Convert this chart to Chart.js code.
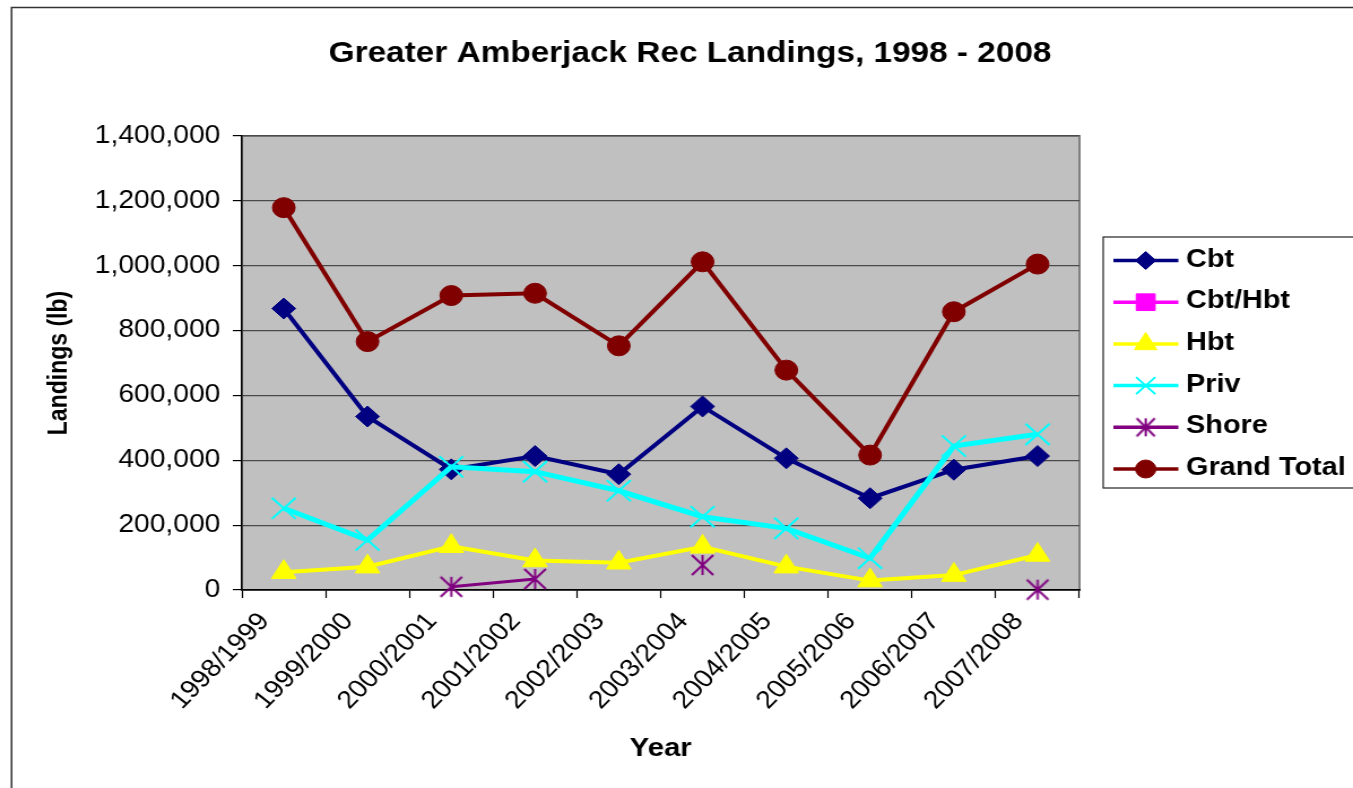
<!DOCTYPE html>
<html>
<head>
<meta charset="utf-8">
<title>Greater Amberjack Rec Landings, 1998 - 2008</title>
<script src="https://cdn.jsdelivr.net/npm/chart.js@4.4.1/dist/chart.umd.min.js"></script>
<style>
  html, body { margin: 0; padding: 0; background: #ffffff; }
  #landingsChart { display: block; }
</style>
</head>
<body>
<!-- drawn 1197 wide and stretched to 1353 by css, the original picture is stretched the same way -->
<canvas id="landingsChart" width="1197" height="788" style="width:1353px;height:788px"></canvas>
<script>
// Data (pounds)
const seasons = ['1998/1999', '1999/2000', '2000/2001', '2001/2002', '2002/2003',
                 '2003/2004', '2004/2005', '2005/2006', '2006/2007', '2007/2008'];
const cbt        = [868000, 535000, 372000, 413000, 357000, 566000, 406000, 283000, 371000, 413000];
const cbtHbt     = [null, null, null, null, null, null, null, null, null, null];
const hbt        = [55000, 72000, 135000, 91000, 84000, 133000, 72000, 29000, 46000, 108000];
const priv       = [252000, 154000, 380000, 365000, 306000, 226000, 190000, 98000, 444000, 480000];
const shore      = [null, null, 10000, 34000, null, 77000, null, null, null, 1000];
const grandTotal = [1179000, 766000, 908000, 915000, 753000, 1012000, 678000, 416000, 858000, 1005000];
const yTicks     = [0, 200000, 400000, 600000, 800000, 1000000, 1200000, 1400000];

const colors = {
    cbt: '#000080',
    cbtHbt: '#FF00FF',
    hbt: '#FFFF00',
    priv: '#00FFFF',
    shore: '#800080',
    total: '#800000',
    plot: '#C0C0C0',
    plotBorder: '#808080',
    grid: '#4a4a4a',
    axis: '#000000'
};

const FONT = "'Liberation Sans', Arial, sans-serif";
Chart.defaults.font.family = FONT;
Chart.defaults.color = '#000000';

// plot area in canvas units
const plotLeft = 214, plotRight = 955, plotTop = 136, plotBottom = 590;
const padLeft = 20;

// Excel style asterisk: an X plus a vertical bar
function makeAsterisk(w, h, color, lw) {
    const c = document.createElement('canvas');
    c.width = Math.ceil(w + lw * 2);
    c.height = Math.ceil(h + lw * 2);
    const g = c.getContext('2d');
    const x0 = (c.width - w) / 2, y0 = (c.height - h) / 2;
    g.strokeStyle = color;
    g.lineWidth = lw;
    g.beginPath();
    g.moveTo(x0, y0); g.lineTo(x0 + w, y0 + h);
    g.moveTo(x0 + w, y0); g.lineTo(x0, y0 + h);
    g.moveTo(c.width / 2, y0); g.lineTo(c.width / 2, y0 + h);
    g.stroke();
    return c;
}
const shoreMark = makeAsterisk(19, 20, colors.shore, 2);
const shoreLegendMark = makeAsterisk(16, 18, colors.shore, 2);

function series(label, data, color, style, radius, lineWidth, markerBorder, order) {
    return {
        label: label,
        data: data,
        borderColor: color,
        backgroundColor: color,
        borderWidth: lineWidth,
        pointStyle: style,
        pointRadius: radius,
        pointHoverRadius: radius,
        pointBackgroundColor: color,
        pointBorderColor: color,
        pointBorderWidth: markerBorder,
        tension: 0,
        spanGaps: false,
        clip: false,
        order: order
    };
}

// legend marker sizes (smaller than in the plot)
const legendRadius = [9, 11.8, 11.5, 12, 9.5, 9];

const framePlugin = {
    id: 'frame',
    beforeDraw(chart) {
        const ctx = chart.ctx;
        const a = chart.chartArea;
        ctx.save();
        // outer border of the chart object
        ctx.strokeStyle = '#333333';
        ctx.lineWidth = 1.5;
        ctx.strokeRect(10.2, 7.5, chart.width + 20, chart.height + 20);
        // grey plot area
        ctx.fillStyle = colors.plot;
        ctx.fillRect(a.left, a.top, a.right - a.left, a.bottom - a.top);
        ctx.strokeStyle = colors.plotBorder;
        ctx.lineWidth = 2;
        ctx.strokeRect(a.left, a.top, a.right - a.left, a.bottom - a.top);
        ctx.restore();
    },
    afterDraw(chart) {
        const ctx = chart.ctx;
        ctx.save();
        // title
        ctx.fillStyle = '#000000';
        ctx.font = 'bold 29.5px ' + FONT;
        ctx.textAlign = 'center';
        ctx.textBaseline = 'alphabetic';
        ctx.fillText('Greater Amberjack Rec Landings, 1998 - 2008', 610.5, 62);

        // legend box (runs off the right edge like the original)
        ctx.strokeStyle = '#222222';
        ctx.lineWidth = 1.2;
        ctx.strokeRect(976, 237, chart.width, 251);
        chart.data.datasets.forEach(function(ds, i) {
            const y = 260.5 + i * 41.7;
            ctx.strokeStyle = ds.borderColor;
            ctx.lineWidth = 3.5;
            ctx.beginPath();
            ctx.moveTo(985, y);
            ctx.lineTo(1042.5, y);
            ctx.stroke();
            ctx.fillStyle = ds.pointBackgroundColor;
            ctx.strokeStyle = ds.pointBorderColor;
            ctx.lineWidth = ds.pointBorderWidth;
            Chart.helpers.drawPoint(ctx, {
                pointStyle: ds.pointStyle === shoreMark ? shoreLegendMark : ds.pointStyle,
                rotation: 0,
                radius: legendRadius[i],
                borderWidth: ds.pointBorderWidth
            }, 1013.6, y);
            ctx.fillStyle = '#000000';
            ctx.font = 'bold 25.5px ' + FONT;
            ctx.textAlign = 'left';
            ctx.textBaseline = 'middle';
            ctx.fillText(ds.label, 1049.3, y - 1);
        });
        ctx.restore();
    }
};

new Chart(document.getElementById('landingsChart').getContext('2d'), {
    type: 'line',
    data: {
        labels: seasons,
        datasets: [
            series('Cbt', cbt, colors.cbt, 'rectRot', 10.5, 4, 1, 5),
            series('Cbt/Hbt', cbtHbt, colors.cbtHbt, 'rect', 11, 4, 1, 4),
            series('Hbt', hbt, colors.hbt, 'triangle', 12.5, 4, 1, 3),
            series('Priv', priv, colors.priv, 'crossRot', 15, 5, 2, 2),
            series('Shore', shore, colors.shore, shoreMark, 11, 3, 2, 1),
            series('Grand Total', grandTotal, colors.total, 'circle', 10, 4, 1, 0)
        ]
    },
    options: {
        responsive: false,
        animation: false,
        devicePixelRatio: 1,
        layout: {
            padding: {
                left: padLeft,
                right: 1197 - plotRight,
                top: plotTop,
                bottom: 0
            }
        },
        plugins: {
            legend: { display: false },
            title: { display: false },
            tooltip: { enabled: false }
        },
        scales: {
            x: {
                offset: true,
                afterFit: function(scale) {
                    scale.height = 788 - plotBottom;
                },
                grid: {
                    offset: true,
                    drawOnChartArea: false,
                    drawTicks: true,
                    tickLength: 8,
                    tickColor: colors.axis,
                    tickWidth: 1.2
                },
                border: {
                    color: colors.axis,
                    width: 1.5
                },
                ticks: {
                    autoSkip: false,
                    minRotation: 48.5,
                    maxRotation: 48.5,
                    labelOffset: -17,
                    padding: 9,
                    color: '#000000',
                    font: { size: 25 }
                },
                title: {
                    display: true,
                    text: 'Year',
                    color: '#000000',
                    font: { size: 26, weight: 'bold' },
                    padding: { top: 0, bottom: 24 }
                }
            },
            y: {
                min: 0,
                max: 1400000,
                afterFit: function(scale) {
                    scale.width = plotLeft - padLeft;
                },
                afterBuildTicks: function(scale) {
                    scale.ticks = yTicks.map(function(v) { return { value: v }; });
                },
                grid: {
                    color: colors.grid,
                    lineWidth: 1.2,
                    drawTicks: true,
                    tickLength: 8,
                    tickColor: colors.axis,
                    tickWidth: 1.2
                },
                border: {
                    color: colors.axis,
                    width: 1.5
                },
                ticks: {
                    padding: 11,
                    color: '#000000',
                    font: { size: 25 },
                    callback: function(value) {
                        return value.toLocaleString('en-US');
                    }
                },
                title: {
                    display: true,
                    text: 'Landings (lb)',
                    color: '#000000',
                    font: { size: 23, weight: 'bold' },
                    padding: { top: 18.4, bottom: 0 }
                }
            }
        }
    },
    plugins: [framePlugin]
});
</script>
</body>
</html>
